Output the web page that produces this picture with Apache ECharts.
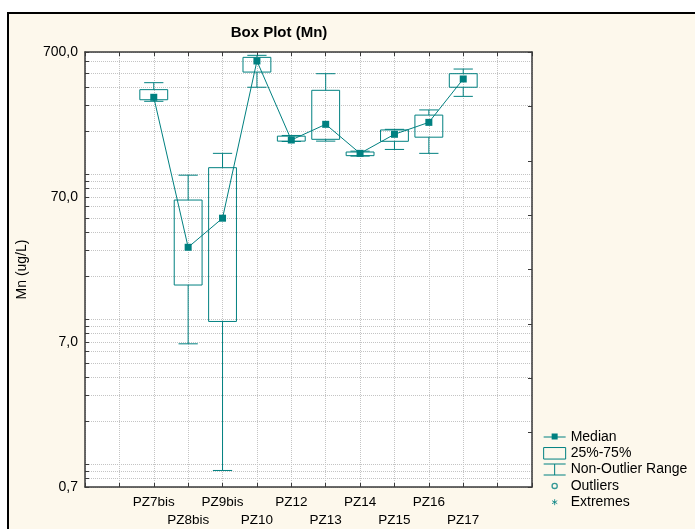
<!DOCTYPE html>
<html>
<head>
<meta charset="utf-8">
<script src="https://cdn.jsdelivr.net/npm/echarts@6/dist/echarts.min.js"></script>
<style>html,body{margin:0;padding:0;background:#fff}#c{width:695px;height:529px}</style>
</head>
<body>
<div id="c"></div>
<script>
// ---- data ----
const categories = ['PZ7bis','PZ8bis','PZ9bis','PZ10','PZ12','PZ13','PZ14','PZ15','PZ16','PZ17'];
const mins    = [320, 6.8, 0.91, 400, 169, 170, 134, 149, 140, 346];
const q1s     = [328, 17.3, 9.7, 509, 170, 175, 135, 169.5, 181, 400];
const medians = [341, 31.5, 50, 607, 173, 222, 140, 189.5, 229, 456];
const q3s     = [385, 66.7, 111.5, 643, 184, 381, 143, 203, 257, 496];
const maxs    = [430, 99, 140, 664, 186, 496, 145, 205, 279, 534];
const yLabelValues = [0.7, 7, 70, 700];
const yGridValues = [0.7,0.8,0.9,1,2,3,4,5,6,7,8,9,10,20,30,40,50,60,70,80,90,100,200,300,400,500,600,700];
const xAxisCategories = ['', ''].concat(categories, ['', '']);

const teal = '#008080';
const font = 'Arial, "Liberation Sans", sans-serif';
const gridCol = '#c4c4c4';
const axisCol = '#3a3a3a';

const chart = echarts.init(document.getElementById('c'), null, {renderer: 'canvas'});

function renderWhisker(params, api) {
  const x = api.value(0);
  const pMin = api.coord([x, api.value(1)]);
  const pQ1 = api.coord([x, api.value(2)]);
  const pQ3 = api.coord([x, api.value(3)]);
  const pMax = api.coord([x, api.value(4)]);
  const band = api.size([1, 0])[0];
  const half = band * 0.56 / 2;
  const style = {stroke: teal, lineWidth: 1, fill: null};
  return {type: 'group', children: [
    {type: 'line', shape: {x1: pMax[0], y1: pMax[1], x2: pQ3[0], y2: pQ3[1]}, style: style},
    {type: 'line', shape: {x1: pMin[0], y1: pMin[1], x2: pQ1[0], y2: pQ1[1]}, style: style},
    {type: 'line', shape: {x1: pMax[0] - half, y1: pMax[1], x2: pMax[0] + half, y2: pMax[1]}, style: style},
    {type: 'line', shape: {x1: pMin[0] - half, y1: pMin[1], x2: pMin[0] + half, y2: pMin[1]}, style: style}
  ]};
}
function renderBox(params, api) {
  const x = api.value(0);
  const pQ1 = api.coord([x, api.value(1)]);
  const pQ3 = api.coord([x, api.value(2)]);
  const band = api.size([1, 0])[0];
  const half = band * 0.81 / 2;
  return {type: 'rect', shape: {x: pQ3[0] - half, y: pQ3[1], width: half * 2, height: pQ1[1] - pQ3[1]},
    style: {fill: 'rgba(255,255,255,0)', stroke: teal, lineWidth: 1}};
}

const option = {
  backgroundColor: '#fdf8ec',
  animation: false,
  textStyle: {fontFamily: font},
  title: {
    text: 'Box Plot (Mn)', left: 274, top: 20, textAlign: 'center',
    textStyle: {fontFamily: font, fontSize: 15, fontWeight: 'bold', color: '#000'}
  },
  graphic: [
    {type: 'rect', shape: {x: 0, y: 0, width: 8, height: 529}, style: {fill: '#fff'}, silent: true},
    {type: 'rect', shape: {x: 0, y: 0, width: 695, height: 12}, style: {fill: '#fff'}, silent: true},
    {type: 'rect', shape: {x: 8, y: 13, width: 700, height: 530}, style: {fill: null, stroke: '#000', lineWidth: 2}, silent: true}
  ],
  grid: {left: 85, top: 52, right: 163, bottom: 42, show: true, backgroundColor: '#fff', borderWidth: 0},
  legend: {
    orient: 'vertical', left: 543, top: 430, padding: 0, itemWidth: 22, itemHeight: 12, itemGap: 2.3,
    selectedMode: false,
    textStyle: {fontFamily: font, fontSize: 14, color: '#000'},
    data: [
      {name: 'Median', icon: 'path://M0 0M22 12M0 5.5H22V6.5H0Z M8 2.5H14V8.5H8Z', itemStyle: {color: teal, borderWidth: 0}},
      {name: '25%-75%', icon: 'path://M0.5 0.5H21.5V11.5H0.5Z', itemStyle: {color: 'rgba(0,0,0,0)', borderColor: teal, borderWidth: 1}},
      {name: 'Non-Outlier Range', icon: 'path://M0 0H22V1H0Z M10.5 0H11.5V12H10.5Z M0 11H22V12H0Z', itemStyle: {color: teal, borderWidth: 0}},
      {name: 'Outliers', icon: 'path://M0 0M22 12M13.6 6A2.6 2.6 0 1 1 8.4 6A2.6 2.6 0 1 1 13.6 6Z', itemStyle: {color: 'rgba(0,0,0,0)', borderColor: teal, borderWidth: 1.3}},
      {name: 'Extremes', icon: 'path://M0 0M22 12M11 3V9M8.4 4.5L13.6 7.5M8.4 7.5L13.6 4.5', itemStyle: {color: 'rgba(0,0,0,0)', borderColor: teal, borderWidth: 1}}
    ]
  },
  xAxis: [
    {
      type: 'category', data: xAxisCategories, boundaryGap: false, position: 'bottom',
      axisLine: {show: true, lineStyle: {color: axisCol, width: 1.5}},
      axisTick: {show: true, inside: true, length: 4, interval: 0, lineStyle: {color: axisCol}},
      axisLabel: {
        interval: 0, margin: 6, fontFamily: font, fontSize: 13.5, color: '#000', lineHeight: 18,
        formatter: function (v, i) { return v === '' ? '' : (i % 2 === 1 ? '\n' + v : v); }
      },
      splitLine: {show: true, interval: 0, lineStyle: {color: gridCol, type: [1, 1], width: 1}}
    },
    {
      type: 'category', data: xAxisCategories, boundaryGap: false, position: 'top',
      axisLine: {show: true, lineStyle: {color: axisCol, width: 1.5}},
      axisTick: {show: true, inside: true, length: 4, interval: 0, lineStyle: {color: axisCol}},
      axisLabel: {show: false}, splitLine: {show: false}
    }
  ],
  yAxis: [
    {
      type: 'log', logBase: 10, min: 0.7, max: 700, position: 'left',
      name: 'Mn (ug/L)', nameLocation: 'middle', nameGap: 56, nameRotate: 90,
      nameTextStyle: {fontFamily: font, fontSize: 14, color: '#000'},
      axisLine: {show: true, lineStyle: {color: axisCol, width: 1.5}},
      axisTick: {show: true, inside: true, length: 4, customValues: yGridValues, lineStyle: {color: axisCol}},
      axisLabel: {
        customValues: yLabelValues, margin: 7, fontFamily: font, fontSize: 14, color: '#000',
        showMinLabel: true, showMaxLabel: true,
        formatter: function (v) { return (Math.round(v * 10) / 10).toFixed(1).replace('.', ','); }
      },
      splitLine: {show: true, lineStyle: {color: gridCol, type: [1, 1], width: 1}},
      minorTick: {show: false}, minorSplitLine: {show: false}
    },
    {
      type: 'value', min: 0, max: 8, interval: 1, position: 'right',
      axisLine: {show: true, lineStyle: {color: axisCol, width: 1.5}},
      axisTick: {show: true, inside: true, length: 4, lineStyle: {color: axisCol}},
      axisLabel: {show: false}, splitLine: {show: false}
    }
  ],
  series: [
    {
      name: 'Non-Outlier Range', type: 'custom', xAxisIndex: 0, yAxisIndex: 0,
      renderItem: renderWhisker, encode: {x: 0, y: [1, 2, 3, 4]}, itemStyle: {color: teal},
      data: categories.map((c, i) => [c, mins[i], q1s[i], q3s[i], maxs[i]]), z: 3
    },
    {
      name: '25%-75%', type: 'custom', xAxisIndex: 0, yAxisIndex: 0,
      renderItem: renderBox, encode: {x: 0, y: [1, 2]}, itemStyle: {color: teal},
      data: categories.map((c, i) => [c, q1s[i], q3s[i]]), z: 4
    },
    {
      name: 'Median', type: 'line', xAxisIndex: 0, yAxisIndex: 0,
      data: categories.map((c, i) => [c, medians[i]]),
      symbol: 'rect', symbolSize: 7, itemStyle: {color: teal}, lineStyle: {color: teal, width: 1}, z: 5
    },
    {name: 'Outliers', type: 'scatter', data: [], itemStyle: {color: teal}},
    {name: 'Extremes', type: 'scatter', data: [], itemStyle: {color: teal}}
  ]
};
chart.setOption(option);
</script>
</body>
</html>
